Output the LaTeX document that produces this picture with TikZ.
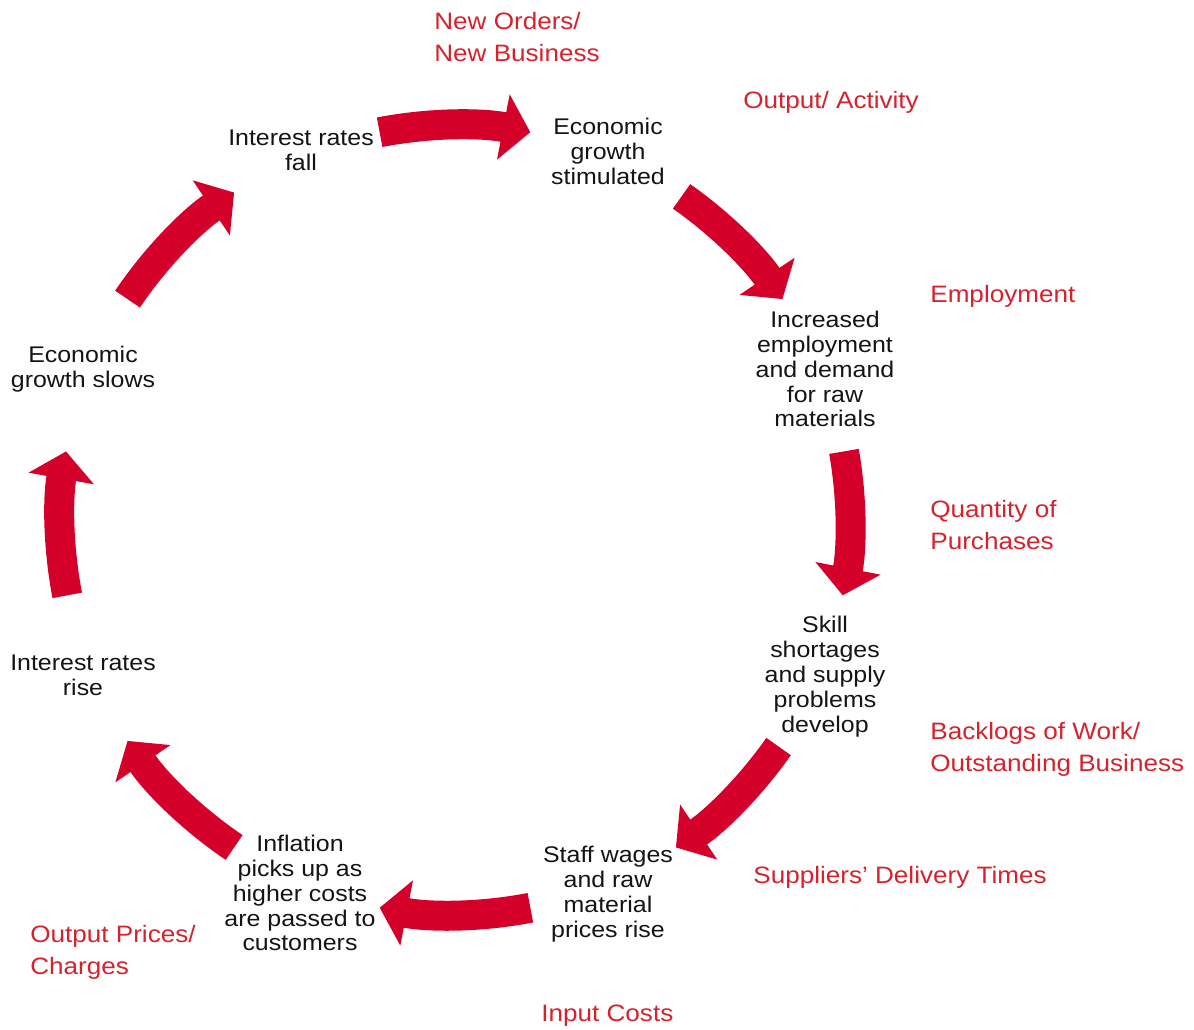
\documentclass[tikz,border=0pt]{standalone}
\usepackage{fontspec}
\setmainfont{Liberation Sans}[FakeStretch=1.1]
\usetikzlibrary{arrows.meta,calc}
\definecolor{arrowred}{RGB}{213,0,42}
\definecolor{labelred}{RGB}{214,34,44}
\definecolor{txt}{RGB}{20,20,20}
\tikzset{
  stage/.style={align=center, inner sep=0pt, text=txt, font=\fontsize{12.9}{14.2}\selectfont},
  indicator/.style={align=left, inner sep=0pt, anchor=west, text=labelred, font=\fontsize{13.5}{18.2}\selectfont},
  flow/.style={draw=arrowred, line width=0.6cm, -{Triangle[width=1.3cm,length=0.55cm]}, arrowred}
}
\begin{document}
\begin{tikzpicture}[x=0.02cm,y=0.02cm]
\useasboundingbox (0,0) rectangle (1194,1030);
\coordinate (C) at (455,510);
% stages
\node[stage] (fall) at (301,880) {Interest rates\\fall};
\node[stage] (stim) at (608,879) {Economic\\growth\\stimulated};
\node[stage] (emp) at (825,661) {Increased\\employment\\and demand\\for raw\\materials};
\node[stage] (skill) at (825,353) {Skill\\shortages\\and supply\\problems\\develop};
\node[stage] (wages) at (608,136) {Staff wages\\and raw\\material\\prices rise};
\node[stage] (infl) at (300,137) {Inflation\\picks up as\\higher costs\\are passed to\\customers};
\node[stage] (rise) at (83,355) {Interest rates\\rise};
\node[stage] (slows) at (83,661) {Economic\\growth slows};
% indicators
\node[indicator] (neword) at (434,993) {New Orders/\\New Business};
\node[indicator] (output) at (743,928) {Output/ Activity};
\node[indicator] (employ) at (930,734) {Employment};
\node[indicator] (quant) at (930,505) {Quantity of\\Purchases};
\node[indicator] (backlog) at (930,281) {Backlogs of Work/\\Outstanding Business};
\node[indicator] (supp) at (753,153) {Suppliers’ Delivery Times};
\node[indicator] (input) at (541,14) {Input Costs};
\node[indicator] (oprice) at (30,78) {Output Prices/\\Charges};
% arrow start coordinates
\foreach \i/\a in {1/101,2/55,3/10,4/-35,5/-79,6/-124,7/191,8/146}{
  \coordinate (s\i) at ($(C)+(\a:395)$);
}
\draw[flow] (s1) arc[start angle=101,end angle=79,radius=7.9cm];
\draw[flow] (s2) arc[start angle=55,end angle=34,radius=7.9cm];
\draw[flow] (s3) arc[start angle=10,end angle=-11,radius=7.9cm];
\draw[flow] (s4) arc[start angle=-35,end angle=-56,radius=7.9cm];
\draw[flow] (s5) arc[start angle=-79,end angle=-101,radius=7.9cm];
\draw[flow] (s6) arc[start angle=-124,end angle=-146,radius=7.9cm];
\draw[flow] (s7) arc[start angle=191,end angle=170,radius=7.9cm];
\draw[flow] (s8) arc[start angle=146,end angle=124,radius=7.9cm];
\end{tikzpicture}
\end{document}
